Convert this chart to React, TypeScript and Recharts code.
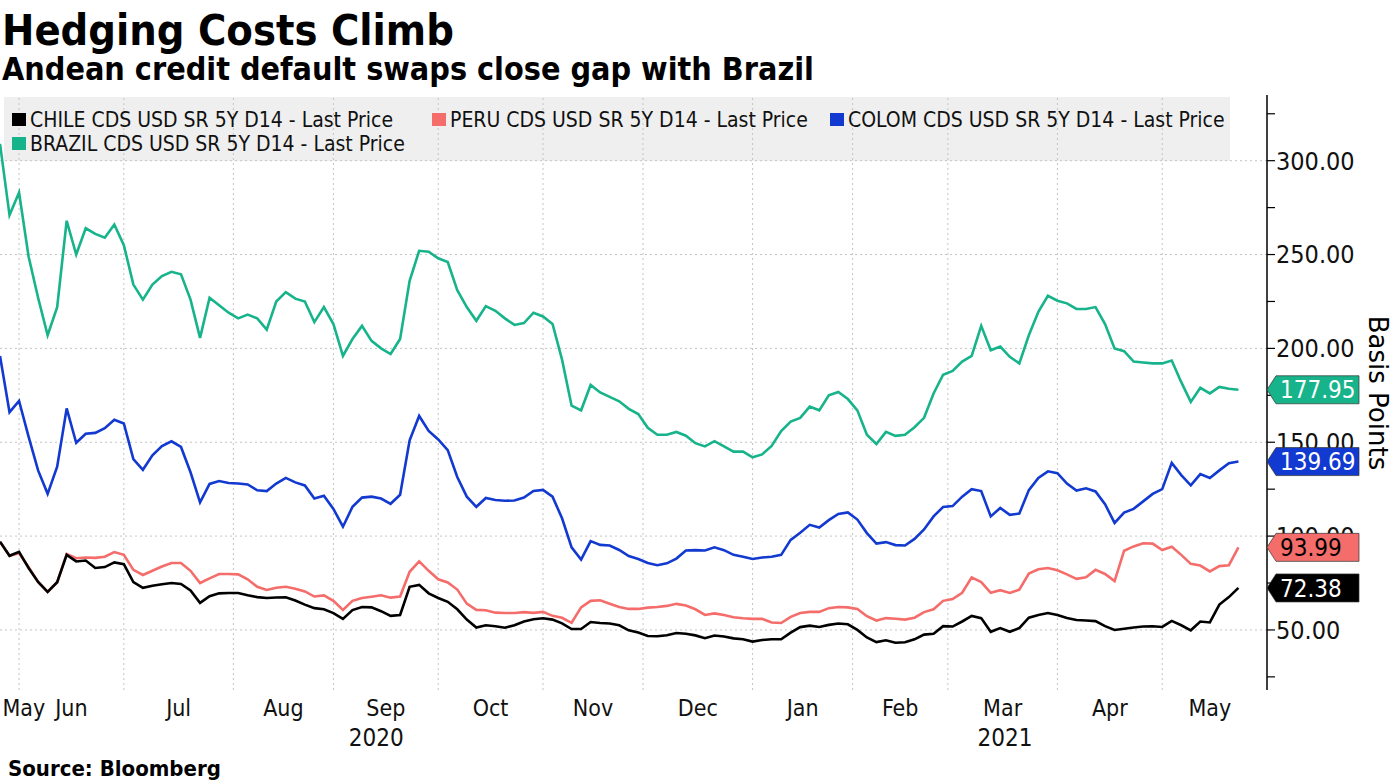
import React from "react";
import { LineChart, Line, XAxis, YAxis, ReferenceLine, ReferenceDot } from "recharts";

// business-day index since 26 May 2020 (every 2nd trading day)
const dayIndex = [
  0, 2, 4, 6, 8, 10, 12, 14, 16, 18, 20, 22, 24, 26, 28, 30, 32, 34, 36, 38,
  40, 42, 44, 46, 48, 50, 52, 54, 56, 58, 60, 62, 64, 66, 68, 70, 72, 74, 76, 78,
  80, 82, 84, 86, 88, 90, 92, 94, 96, 98, 100, 102, 104, 106, 108, 110, 112, 114, 116, 118,
  120, 122, 124, 126, 128, 130, 132, 134, 136, 138, 140, 142, 144, 146, 148, 150, 152, 154, 156, 158,
  160, 162, 164, 166, 168, 170, 172, 174, 176, 178, 180, 182, 184, 186, 188, 190, 192, 194, 196, 198,
  200, 202, 204, 206, 208, 210, 212, 214, 216, 218, 220, 222, 224, 226, 228, 230, 232, 234, 236, 238,
  240, 242, 244, 246, 248, 250, 252, 254, 256, 258, 260,
];

const brazil = [
  309, 271, 283, 249, 227, 207, 222, 268, 250, 264,
  261, 259, 266, 255, 234, 226, 234, 238.5, 240.8, 239.5,
  226, 205.6, 227, 223, 219, 216, 218, 216, 210, 225,
  230, 226.5, 225, 214, 222, 213, 196, 205, 212, 204,
  200, 197, 205, 236, 252, 251.5, 248, 246, 231, 222,
  214.7, 222.5, 220, 216, 212.5, 213.5, 219, 217, 213, 194,
  169.5, 167, 180.5, 176.5, 174.2, 171.8, 167.8, 165, 157.7, 154,
  154, 155.5, 153.5, 149.5, 147.8, 150.6, 147.8, 145, 145, 142,
  143.5, 148, 156, 161, 163, 169, 167, 175, 176.8, 173,
  167, 154, 149, 155.5, 153.4, 154, 158, 163, 176, 186,
  188, 193, 196, 212, 199, 201, 195.5, 192, 207, 219.5,
  228, 225.4, 224, 221, 221, 222, 213, 200, 198.5, 193,
  192.5, 192, 192, 193.5, 182, 171.5, 179, 176, 179.5, 178.5,
  177.95,
];

const colom = [
  196, 166, 172, 153, 135, 122.5, 137, 168, 149.7, 154.5,
  155, 157.5, 162, 160, 141, 135.3, 143, 148, 150.5, 147.5,
  134, 118, 127.8, 129.3, 128.3, 128, 127.5, 124.4, 124, 128,
  131, 128.6, 127, 120, 121.5, 114.5, 105, 115.6, 120.5, 121,
  120, 117.2, 122, 151, 164, 156, 151.5, 145.8, 131.5, 121,
  115.6, 120.3, 119.2, 118.8, 119, 120.5, 124, 124.6, 121, 109.5,
  94, 87.5, 97.3, 95.3, 95, 92.6, 89.4, 87.8, 85.7, 84.5,
  85.5, 88, 92.3, 92.5, 92.3, 94, 92.5, 90, 89, 87.8,
  88.6, 89, 90, 98, 101.8, 106, 104.6, 108.5, 111.8, 112.6,
  108.8, 101.6, 96, 96.8, 95.2, 95, 98.5, 103.5, 110.5, 115.5,
  116, 121, 125, 124, 110.5, 115, 111.3, 112, 124.5, 131,
  134.5, 133.5, 128, 124.3, 125.5, 123.8, 117, 107, 112.5, 114.5,
  118.5, 122.5, 125, 139, 132.5, 127, 133, 131, 135, 138.8,
  139.69,
];

const peru = [
  97, 89.5, 90.8, 83.5, 75.6, 70.3, 75.4, 90.5, 88.2, 88.6,
  88.4, 89, 91.5, 90, 82, 79.3, 81.5, 83.8, 85.7, 85.7,
  81.5, 75, 77.5, 79.8, 79.8, 79.6, 77, 73, 71.3, 72.5,
  73, 72, 70.5, 67.8, 68.4, 65.5, 60.7, 65.5, 67, 67.7,
  68.5, 67.2, 67.8, 81, 86.5, 81.5, 77, 75.3, 71.5, 64,
  60.7, 60.5, 59.2, 59, 59, 59.5, 59.1, 59.6, 57.5, 56.5,
  53.8, 62, 65.5, 65.8, 64, 62.2, 61.2, 61.2, 61.9, 62.2,
  62.8, 63.9, 63, 61, 58, 58.8, 58, 56.8, 56.2, 55.9,
  55.9, 54, 53.7, 57, 59, 59.6, 59.6, 61.6, 62.2, 62,
  61.2, 57.3, 55, 56.3, 56, 55.5, 56.5, 59.5, 61, 65.5,
  66.5, 69.8, 78, 75.5, 69.8, 71.2, 69.7, 71.5, 80, 82.3,
  83, 81.8, 79.6, 77.2, 78, 82, 79.8, 76, 92.2, 94.5,
  96.2, 96, 92.6, 94.3, 90, 85.2, 84.3, 81.2, 84, 84.5,
  93.99,
];

const chile = [
  97, 89.5, 91.6, 83, 75.6, 70.3, 75.4, 90, 86.5, 87,
  83, 83.5, 86, 85, 75.5, 72.4, 73.5, 74.3, 75, 74.5,
  71, 64.4, 68, 69.5, 69.7, 69.7, 68.5, 67.5, 67, 67.3,
  67.4, 65.7, 63.5, 61.6, 61, 59, 55.9, 60.6, 62.2, 62,
  60, 57.5, 58, 73, 74, 69.5, 67, 65, 61, 55.5,
  51.3, 52.5, 52, 51.2, 52.5, 54.5, 55.7, 56.2, 55.5, 53.5,
  50.5, 50.5, 54.2, 53.7, 53.4, 52.5, 49.8, 48.6, 46.8, 46.6,
  47.2, 48.4, 48, 47.1, 45.6, 47, 46.5, 45.5, 45, 43.8,
  44.6, 45, 45, 48.6, 51.5, 52.3, 51.6, 52.7, 53.4, 53,
  50, 46, 43.5, 44.5, 43.2, 43.4, 45, 47.5, 48, 52,
  51.8, 54.5, 57.5, 56.3, 49, 51, 49, 51, 56.5, 58,
  59, 58, 56.4, 55.3, 55, 54.7, 52, 50, 50.6, 51.3,
  51.8, 52, 51.6, 54.8, 52.5, 49.8, 54.5, 54, 63.5, 67.5,
  72.38,
];

const monthLabels = ["May", "Jun", "Jul", "Aug", "Sep", "Oct", "Nov", "Dec", "Jan", "Feb", "Mar", "Apr", "May"];
const monthTicks = [5, 15, 37.5, 59.5, 81, 103, 124.5, 146.5, 168.5, 189, 210.5, 233, 254];
const monthStarts = [4, 26, 49, 70, 92, 114, 135, 158, 179, 199, 222, 244];
const yearLabels = ["2020", "2021"];
const yearTicks = [79, 211];
const yTicks = [25, 50, 75, 100, 125, 150, 175, 200, 225, 250, 275, 300, 325];
const gridValues = [50, 100, 150, 200, 250, 300];

const series = [
  { key: "chile", name: "CHILE CDS USD SR 5Y D14 - Last Price", color: "#000000", text: "#ffffff", values: chile },
  { key: "peru", name: "PERU CDS USD SR 5Y D14 - Last Price", color: "#f46d6b", text: "#000000", values: peru },
  { key: "colom", name: "COLOM CDS USD SR 5Y D14 - Last Price", color: "#1239d0", text: "#ffffff", values: colom },
  { key: "brazil", name: "BRAZIL CDS USD SR 5Y D14 - Last Price", color: "#17b38a", text: "#ffffff", values: brazil },
];

const rows = dayIndex.map((d, k) => ({
  d,
  chile: chile[k],
  peru: peru[k],
  colom: colom[k],
  brazil: brazil[k],
}));

const COND = '"DejaVu Sans Condensed", "DejaVu Sans", sans-serif';
const REG = '"DejaVu Sans", sans-serif';

function MonthTick(props: any) {
  const { x, y, payload } = props;
  const k = monthTicks.indexOf(payload.value);
  return (
    <text x={x} y={y + 24} textAnchor="middle" fontSize={23} fontFamily={COND} fontStretch="condensed" fill="#111">
      {monthLabels[k]}
    </text>
  );
}

function YearTick(props: any) {
  const { x, y, payload } = props;
  const k = yearTicks.indexOf(payload.value);
  return (
    <text x={x} y={y + 14} textAnchor="middle" fontSize={24} fontFamily={COND} fontStretch="condensed" fill="#111">
      {yearLabels[k]}
    </text>
  );
}

function Tag(props: any) {
  const { cx, cy, tagFill, textColor, label } = props;
  const h = 14;
  const pts = `${cx},${cy} ${cx + 9},${cy - h} ${cx + 92},${cy - h} ${cx + 92},${cy + h} ${cx + 9},${cy + h}`;
  return (
    <g>
      <polygon points={pts} fill={tagFill} stroke="#333" strokeWidth={0.7} />
      <text x={cx + 13} y={cy} dy="0.36em" fill={textColor} fontSize={24} fontFamily={COND} fontStretch="condensed">
        {label}
      </text>
    </g>
  );
}

const legendPos = [
  { x: 12, y: 119 },
  { x: 432, y: 119 },
  { x: 830, y: 119 },
  { x: 12, y: 143 },
];

export default function App() {
  return (
    <div style={{ position: "absolute", left: 0, top: 0, width: 1395, height: 784, background: "#fff", overflow: "hidden" }}>
      <svg width={1395} height={784} style={{ position: "absolute", left: 0, top: 0 }}>
        <text x={2} y={45} fontSize={43} fontWeight="bold" fontFamily={COND} fontStretch="condensed" fill="#000">
          Hedging Costs Climb
        </text>
        <text x={2} y={80} fontSize={32} fontWeight="bold" fontFamily={COND} fontStretch="condensed" fill="#000">
          Andean credit default swaps close gap with Brazil
        </text>
        <rect x={4} y={97} width={1226} height={64} fill="#efefef" />
        <text x={8} y={776} fontSize={22} fontWeight="bold" fontFamily={COND} fontStretch="condensed" fill="#000">
          Source: Bloomberg
        </text>
        <text
          x={1378}
          y={393}
          fontSize={26}
          fontFamily={REG}
          fill="#000"
          textAnchor="middle"
          dominantBaseline="central"
          transform="rotate(90 1378 393)"
        >
          Basis Points
        </text>
      </svg>
      <div style={{ position: "absolute", left: 0, top: 0 }}>
        <LineChart width={1395} height={784} data={rows} margin={{ top: 95, right: 0, left: 0, bottom: 24 }}>
          <XAxis
            dataKey="d"
            type="number"
            domain={[0, 266]}
            ticks={monthTicks}
            interval={0}
            axisLine={false}
            tickLine={false}
            tickSize={0}
            height={40}
            allowDataOverflow
            tick={(p: any) => <MonthTick {...p} />}
          />
          <XAxis
            xAxisId="yr"
            dataKey="d"
            type="number"
            domain={[0, 266]}
            ticks={yearTicks}
            interval={0}
            axisLine={false}
            tickLine={false}
            tickSize={0}
            height={30}
            allowDataOverflow
            tick={(p: any) => <YearTick {...p} />}
          />
          <YAxis
            orientation="right"
            width={128}
            domain={[18, 335]}
            ticks={yTicks}
            interval={0}
            allowDataOverflow
            tickSize={8}
            tickMargin={1}
            axisLine={{ stroke: "#000", strokeWidth: 1.5 }}
            tickLine={{ stroke: "#000", strokeWidth: 1.2 }}
            tick={{ fill: "#111", fontSize: 25, fontFamily: COND, fontStretch: "condensed" }}
            tickFormatter={(v: number) => (v % 50 === 0 ? v.toFixed(2) : "")}
          />
          {gridValues.map((v) => (
            <ReferenceLine key={"h" + v} y={v} stroke="#c4c4c4" strokeDasharray="2 3" />
          ))}
          {monthStarts.map((v) => (
            <ReferenceLine key={"v" + v} x={v} stroke="#c4c4c4" strokeDasharray="2 3" />
          ))}
          <Line dataKey="brazil" type="linear" stroke="#17b38a" strokeWidth={2.6} dot={false} isAnimationActive={false} />
          <Line dataKey="colom" type="linear" stroke="#1239d0" strokeWidth={2.6} dot={false} isAnimationActive={false} />
          <Line dataKey="peru" type="linear" stroke="#f46d6b" strokeWidth={2.6} dot={false} isAnimationActive={false} />
          <Line dataKey="chile" type="linear" stroke="#000000" strokeWidth={2.6} dot={false} isAnimationActive={false} />
          {series.map((s) => {
            const last = s.values[s.values.length - 1];
            return (
              <ReferenceDot
                key={"tag" + s.key}
                x={266}
                y={last}
                r={0}
                ifOverflow="visible"
                zIndex={3000}
                shape={(p: any) => <Tag {...p} tagFill={s.color} textColor={s.text} label={last.toFixed(2)} />}
              />
            );
          })}
        </LineChart>
      </div>
      <svg width={1240} height={165} style={{ position: "absolute", left: 0, top: 0, pointerEvents: "none" }}>
        {series.map((s, i) => (
          <g key={s.key}>
            <rect x={legendPos[i].x} y={legendPos[i].y - 6} width={14} height={13} fill={s.color} />
            <text x={legendPos[i].x + 18} y={legendPos[i].y} dy="0.36em" fontSize={21} fontFamily={COND} fontStretch="condensed" fill="#111">
              {s.name}
            </text>
          </g>
        ))}
      </svg>
    </div>
  );
}
